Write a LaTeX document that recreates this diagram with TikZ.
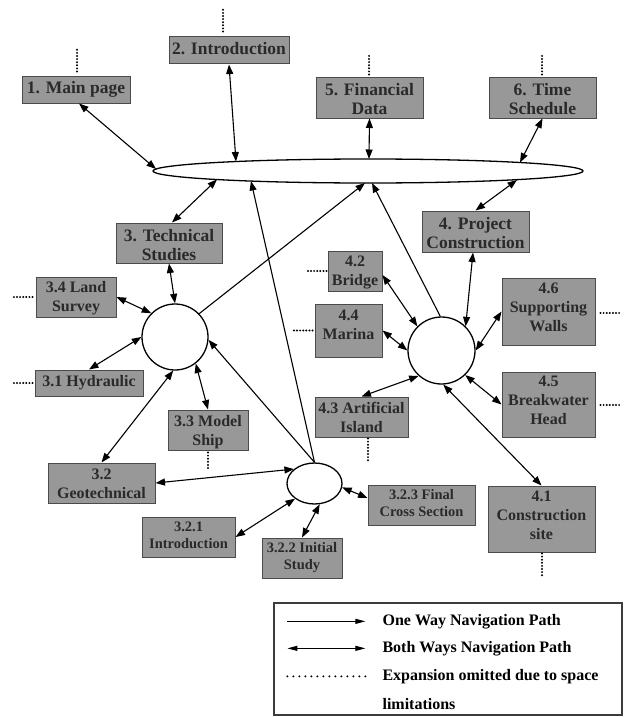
\documentclass[tikz,border=0pt]{standalone}
\usepackage{fontspec}
\setmainfont{Liberation Serif}
\usetikzlibrary{arrows.meta,shapes.geometric}
\definecolor{boxfill}{RGB}{152,152,152}
\definecolor{boxline}{RGB}{75,75,75}
\definecolor{txtc}{RGB}{42,42,42}
\definecolor{legline}{RGB}{60,60,60}
\begin{document}
\begin{tikzpicture}[x=1pt,y=-1pt,
  box/.style={draw=boxline,fill=boxfill,line width=1pt,rectangle,inner sep=0pt},
  tA/.style={font=\fontsize{17.5}{19}\selectfont\bfseries,text=txtc,align=center,inner sep=0pt},
  tB/.style={font=\fontsize{16}{19}\selectfont\bfseries,text=txtc,align=center,inner sep=0pt},
  tC/.style={font=\fontsize{14.5}{17}\selectfont\bfseries,text=txtc,align=center,inner sep=0pt},
  tL/.style={font=\fontsize{16}{19}\selectfont\bfseries,text=black,anchor=west,inner sep=0pt},
  one/.style={-{Triangle[length=9.5pt,width=7pt]},line width=1.1pt},
  both/.style={{Triangle[length=9.5pt,width=7pt]}-{Triangle[length=9.5pt,width=7pt]},line width=1.1pt},
  lone/.style={-{Triangle[length=10pt,width=5pt]},line width=1.1pt},
  lboth/.style={{Triangle[length=10pt,width=5pt]}-{Triangle[length=10pt,width=5pt]},line width=1.1pt},
  dots/.style={line width=2.2pt,line cap=round,dash pattern=on 0pt off 3.1pt},
  ldots/.style={line width=2.2pt,line cap=round,dash pattern=on 0pt off 6pt},
  hub/.style={draw,fill=white,line width=1.3pt,inner sep=0pt}
]
\useasboundingbox (0,0) rectangle (626,717);

% hubs
\node[hub,ellipse,minimum width=430,minimum height=24] (E) at (368,171) {};
\node[hub,circle,minimum size=66] (C3) at (175,337) {};
\node[hub,circle,minimum size=67] (C4) at (441.5,350.5) {};
\node[hub,ellipse,minimum width=55,minimum height=41] (SE) at (314.5,483.5) {};

% points on the big ellipse
\coordinate (eMain)  at ([shift={(-212,-2)}]E.center);
\coordinate (eIntro) at ([shift={(-132,-9.5)}]E.center);
\coordinate (eFin)   at ([shift={(1,-12)}]E.center);
\coordinate (eTime)  at ([shift={(152,-8.5)}]E.center);
\coordinate (eTech)  at ([shift={(-151,8.5)}]E.center);
\coordinate (eLong)  at ([shift={(-117,10)}]E.center);
\coordinate (eC3)    at ([shift={(-3,12)}]E.center);
\coordinate (eC4)    at ([shift={(4,12)}]E.center);
\coordinate (eProj)  at ([shift={(149,9)}]E.center);

% boxes
\node[box,minimum width=108,minimum height=27] (b1) at (76,89.5) {};
\node[tA] (t1) at (b1.center) {\strut 1. Main page};
\node[box,minimum width=120,minimum height=27] (b2) at (229,50.5) {};
\node[tA] (t2) at (b2.center) {\strut 2. Introduction};
\node[box,minimum width=107,minimum height=41] (b5) at (369.5,97.5) {};
\node[tA] (t5) at ([shift={(0,3.5)}]b5.center) {\strut 5. Financial\\\strut Data};
\node[box,minimum width=107,minimum height=41] (b6) at (542.5,97.5) {};
\node[tA] (t6) at ([shift={(0,3.5)}]b6.center) {\strut 6. Time\\\strut Schedule};
\node[box,minimum width=106,minimum height=40] (b3) at (169,243) {};
\node[tA] (t3) at ([shift={(0,4)}]b3.center) {\strut 3. Technical\\\strut Studies};
\node[box,minimum width=107,minimum height=41] (b4) at (475.5,231.5) {};
\node[tA] (t4) at ([shift={(0,3.5)}]b4.center) {\strut 4. Project\\\strut Construction};

\node[box,minimum width=80,minimum height=40] (b34) at (76,297) {};
\node[tB] (t34) at ([shift={(0,1.5)}]b34.center) {\strut 3.4 Land\\\strut Survey};
\node[box,minimum width=108,minimum height=26] (b31) at (89,383) {};
\node[tB] (t31) at (b31.center) {\strut 3.1 Hydraulic};
\node[box,minimum width=80,minimum height=40] (b33) at (208,430) {};
\node[tB] (t33) at ([shift={(0,2)}]b33.center) {\strut 3.3 Model\\\strut Ship};
\node[box,minimum width=107,minimum height=40] (b32) at (101.5,483) {};
\node[tB] (t32) at ([shift={(0,2.5)}]b32.center) {\strut 3.2\\\strut Geotechnical};

\node[box,minimum width=54,minimum height=40] (b42) at (355,271) {};
\node[tB] (t42) at ([shift={(0,1.5)}]b42.center) {\strut 4.2\\\strut Bridge};
\node[box,minimum width=67,minimum height=53] (b44) at (348.5,330.5) {};
\node[tB] (t44) at ([shift={(0,-4)}]b44.center) {\strut 4.4\\\strut Marina};
\node[box,minimum width=93,minimum height=40] (b43) at (361.5,417) {};
\node[tB] (t43) at ([shift={(0,2)}]b43.center) {\strut 4.3 Artificial\\\strut Island};
\node[box,minimum width=93,minimum height=67] (b46) at (548.5,311.5) {};
\node[tB] (t46) at ([shift={(0,-2.5)}]b46.center) {\strut 4.6\\\strut Supporting\\\strut Walls};
\node[box,minimum width=93,minimum height=65] (b45) at (548.5,404.5) {};
\node[tB] (t45) at ([shift={(0,-2.5)}]b45.center) {\strut 4.5\\\strut Breakwater\\\strut Head};
\node[box,minimum width=107,minimum height=66] (b41) at (541.5,519) {};
\node[tB] (t41) at ([shift={(0,-2)}]b41.center) {\strut 4.1\\\strut Construction\\\strut site};

\node[box,minimum width=93,minimum height=40] (b321) at (188.5,537) {};
\node[tC] (t321) at (b321.center) {\strut 3.2.1\\\strut Introduction};
\node[box,minimum width=80,minimum height=40] (b322) at (302,558) {};
\node[tC] (t322) at (b322.center) {\strut 3.2.2 Initial\\\strut Study};
\node[box,minimum width=107,minimum height=40] (b323) at (421.5,505) {};
\node[tC] (t323) at (b323.center) {\strut 3.2.3 Final\\\strut Cross Section};

% connectors to the big ellipse
\draw[both] ([shift={(3,0)}]b1.south) -- (eMain);
\draw[both] (b2.south) -- (eIntro);
\draw[both] (b5.south) -- (eFin);
\draw[both] (b6.south) -- (eTime);
\draw[both] ([shift={(3,0)}]b3.north) -- (eTech);
\draw[both] (b4.north) -- (eProj);
\draw[one] (C3.44) -- (eC3);
\draw[one] (C4.92) -- (eC4);
\draw[one] (SE.north) -- (eLong);

% circle 3
\draw[both] (b3.south) -- (C3.north);
\draw[both] (b34.east) -- (C3.135);
\draw[both] (b31.north) -- (C3.180);
\draw[both] (b33.north) -- (C3.-52);
\draw[both] (b32.north) -- (C3.-93);
\draw[one] (SE.north) -- (C3.-5);

% small ellipse
\draw[both] (b32.east) -- (SE.145);
\draw[both] (b321.east) -- (SE.-142);
\draw[both] (b322.north) -- (SE.-76);
\draw[both] (SE.-8) -- ([shift={(0,-7)}]b323.west);

% circle 4
\draw[both] ([shift={(-2.5,0)}]b4.south) -- (C4.45);
\draw[both] ([shift={(0,4)}]b42.east) -- (C4.135);
\draw[both] (b44.east) -- (C4.180);
\draw[both] (b43.north) -- (C4.-132);
\draw[both] (b46.west) -- (C4.0);
\draw[both] (b45.west) -- (C4.-46);
\draw[both] (b41.north) -- (C4.-87);

% omitted expansions
\draw[dots] ([shift={(1,-4)}]b1.north) -- ++(0,-24);
\draw[dots] ([shift={(-6,-5)}]b2.north) -- ++(0,-24);
\draw[dots] ([shift={(-0.5,-2)}]b5.north) -- ++(0,-21);
\draw[dots] ([shift={(-0.5,-2)}]b6.north) -- ++(0,-21);
\draw[dots] ([shift={(-3,0)}]b34.west) -- ++(-20,0);
\draw[dots] ([shift={(-2,0)}]b31.west) -- ++(-20,0);
\draw[dots] ([shift={(0,2)}]b33.south) -- ++(0,17);
\draw[dots] ([shift={(-1,0)}]b42.west) -- ++(-21,0);
\draw[dots] ([shift={(-2,0)}]b44.west) -- ++(-20,0);
\draw[dots] ([shift={(5,1.5)}]b46.east) -- ++(20,0);
\draw[dots] ([shift={(5,0.5)}]b45.east) -- ++(20,0);
\draw[dots] ([shift={(6.5,1)}]b43.south) -- ++(0,23);
\draw[dots] ([shift={(0.5,1)}]b41.south) -- ++(0,22);

% legend
\node[draw=legline,line width=1.3pt,minimum width=348,minimum height=112,inner sep=0pt] (L) at (448,659) {};
\coordinate (l1a) at ([shift={(14,19)}]L.north west);
\coordinate (l1b) at ([shift={(92,19)}]L.north west);
\coordinate (l2a) at ([shift={(14,46)}]L.north west);
\coordinate (l2b) at ([shift={(92,46)}]L.north west);
\coordinate (l3a) at ([shift={(14,74)}]L.north west);
\coordinate (l3b) at ([shift={(92,74)}]L.north west);
\draw[lone] (l1a) -- (l1b);
\draw[lboth] (l2a) -- (l2b);
\draw[ldots] (l3a) -- (l3b);
\node[tL] (lt1) at ([shift={(109,19)}]L.north west) {One Way Navigation Path};
\node[tL] (lt2) at ([shift={(109,46)}]L.north west) {Both Ways Navigation Path};
\node[tL] (lt3) at ([shift={(109,74)}]L.north west) {Expansion omitted due to space};
\node[tL] (lt4) at ([shift={(109,102)}]L.north west) {limitations};
\end{tikzpicture}
\end{document}
